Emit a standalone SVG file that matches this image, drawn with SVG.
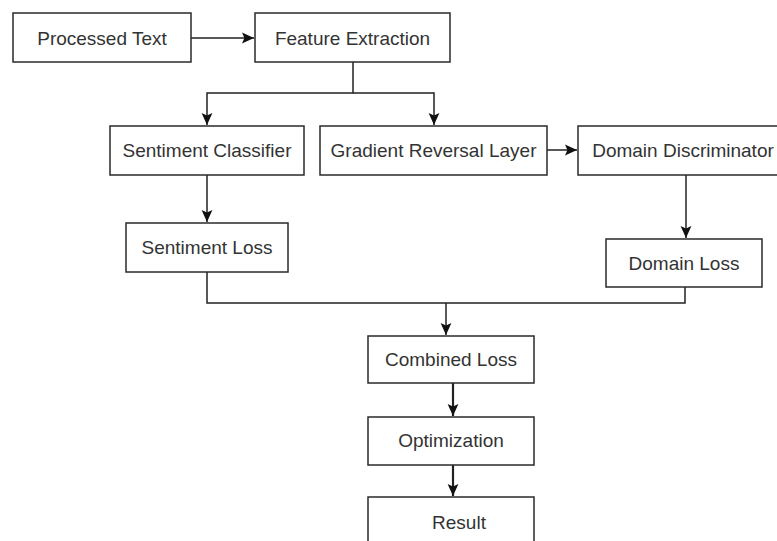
<svg xmlns="http://www.w3.org/2000/svg" width="777" height="541" viewBox="0 0 777 541">
<style>
.box{fill:#fff;stroke:#2a2a2a;stroke-width:1.5}
.lbl{font-family:"Liberation Sans",Arial,sans-serif;font-size:19px;fill:#333;text-anchor:middle}
.c{fill:none;stroke:#222;stroke-width:1.5}
.c2{fill:none;stroke:#222;stroke-width:2.2}
</style>
<defs>
<marker id="ah" markerUnits="userSpaceOnUse" markerWidth="12" markerHeight="12" viewBox="0 0 10 10" refX="10" refY="5" orient="auto">
<path d="M0,0.5 L10,5 L0,9.5 L2,5 z" fill="#111"/>
</marker>
</defs>
<rect width="777" height="541" fill="#fff"/>
<g id="connectors">
<path class="c" d="M191,38 H254" marker-end="url(#ah)"/>
<path class="c" d="M353,62 V93 H207 V125" marker-end="url(#ah)"/>
<path class="c" d="M353,93 H434 V125" marker-end="url(#ah)"/>
<path class="c" d="M547,150 H577" marker-end="url(#ah)"/>
<path class="c" d="M207,175 V222" marker-end="url(#ah)"/>
<path class="c" d="M686,175 V238" marker-end="url(#ah)"/>
<path class="c" d="M207,272 V303 H685 V287"/>
<path class="c" d="M446,303 V335" marker-end="url(#ah)"/>
<path class="c2" d="M453,383 V416" marker-end="url(#ah)"/>
<path class="c2" d="M453,465 V496" marker-end="url(#ah)"/>
</g>
<g id="processed-text"><rect class="box" x="13" y="13" width="178" height="49"/><text class="lbl" x="102" y="45">Processed Text</text></g>
<g id="feature-extraction"><rect class="box" x="255" y="13" width="195" height="49"/><text class="lbl" x="352.5" y="45">Feature Extraction</text></g>
<g id="sentiment-classifier"><rect class="box" x="110" y="126" width="194" height="49"/><text class="lbl" x="207" y="157">Sentiment Classifier</text></g>
<g id="gradient-reversal"><rect class="box" x="320" y="126" width="227" height="49"/><text class="lbl" x="433.5" y="157">Gradient Reversal Layer</text></g>
<g id="domain-discriminator"><rect class="box" x="578" y="126" width="216" height="49"/><text class="lbl" x="683" y="157">Domain Discriminator</text></g>
<g id="sentiment-loss"><rect class="box" x="126" y="223" width="162" height="49"/><text class="lbl" x="207" y="254">Sentiment Loss</text></g>
<g id="domain-loss"><rect class="box" x="606" y="239" width="156" height="48"/><text class="lbl" x="684" y="270">Domain Loss</text></g>
<g id="combined-loss"><rect class="box" x="368" y="336" width="166" height="47"/><text class="lbl" x="451" y="366">Combined Loss</text></g>
<g id="optimization"><rect class="box" x="368" y="417" width="166" height="48"/><text class="lbl" x="451" y="447">Optimization</text></g>
<g id="result"><rect class="box" x="368" y="497" width="166" height="60"/><text class="lbl" x="459" y="529">Result</text></g>
</svg>
